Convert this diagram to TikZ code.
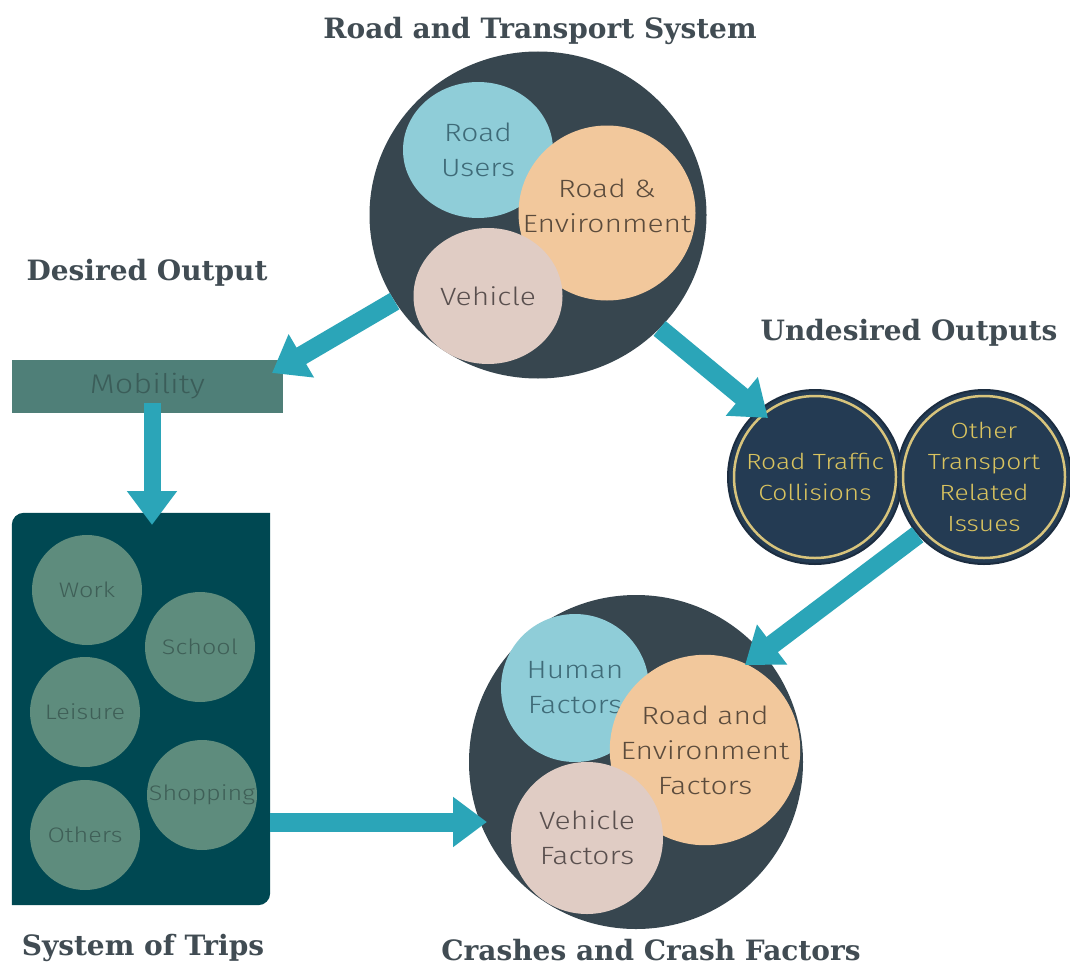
\documentclass[tikz,border=0pt]{standalone}
\usepackage{fontspec}
\setmainfont{Fira Sans Light}[FakeStretch=1.2]
\newfontfamily\titlefont{DejaVu Serif}
\usetikzlibrary{arrows.meta,shapes.geometric}
\definecolor{slate}{HTML}{37464F}
\definecolor{lblue}{HTML}{8FCDD8}
\definecolor{lbluet}{HTML}{3F6B78}
\definecolor{orng}{HTML}{F2C89C}
\definecolor{orngt}{HTML}{5B4B3C}
\definecolor{pnk}{HTML}{E0CCC4}
\definecolor{pnkt}{HTML}{594F4E}
\definecolor{arrowc}{HTML}{2BA5B8}
\definecolor{mobf}{HTML}{4F7F78}
\definecolor{mobt}{HTML}{3B5D59}
\definecolor{tripf}{HTML}{004852}
\definecolor{tripc}{HTML}{5E8C7D}
\definecolor{tript}{HTML}{3F5F57}
\definecolor{navy}{HTML}{243B53}
\definecolor{navyd}{HTML}{1C2D40}
\definecolor{gold}{HTML}{D8C47C}
\definecolor{goldt}{HTML}{D9C35F}
\definecolor{titlec}{HTML}{414C53}
\tikzset{
  bigc/.style={circle, fill=slate, minimum size=#1, inner sep=0pt},
  subc/.style={circle, inner sep=0pt, align=center, font=\fontsize{25}{35}\selectfont},
  subel/.style={ellipse, inner sep=0pt, align=center, font=\fontsize{25}{35}\selectfont},
  txt/.style={align=center, inner sep=0pt, font=\fontsize{25}{35}\selectfont},
  tripcirc/.style={circle, fill=tripc, text=tript, minimum size=110pt, inner sep=0pt, font=\fontsize{21}{25}\selectfont},
  undes/.style={circle, fill=navy, draw=navyd, line width=2pt, minimum size=174pt, inner sep=0pt},
  goldtxt/.style={align=center, text=goldt, inner sep=0pt, font=\fontsize{22}{31}\selectfont},
  ttl/.style={text=titlec, inner sep=0pt, anchor=base, font=\titlefont\bfseries\fontsize{28}{32}\selectfont},
  conn/.style={draw=arrowc, line width=19pt, -{Triangle[width=48pt,length=34pt]}},
}
\begin{document}
\begin{tikzpicture}[x=1pt,y=-1pt]
\useasboundingbox[fill=white] (0,0) rectangle (1070,966);

% titles
\node[ttl] (t1) at (540,38) {Road and Transport System};
\node[ttl] (t2) at (147,280) {Desired Output};
\node[ttl] (t3) at (909,340) {Undesired Outputs};
\node[ttl] (t4) at (143,955) {System of Trips};
\node[ttl] (t5) at (651,960) {Crashes and Crash Factors};

% top system circle
\node[ellipse, fill=slate, minimum width=337pt, minimum height=327pt, inner sep=0pt] (rts) at (538,215) {};
\node[subel, fill=lblue, text=lbluet, minimum width=150pt, minimum height=136pt] (ru) at (478,150) {Road\\Users};
\node[subel, fill=orng, minimum width=177pt, minimum height=175pt] (re) at (607,213) {};
\node[txt, text=orngt] (ret) at (607,206) {Road \&\\Environment};
\node[subel, fill=pnk, text=pnkt, minimum width=149pt, minimum height=136pt] (veh) at (488,296) {Vehicle};

% mobility
\node[fill=mobf, text=mobt, minimum width=271pt, minimum height=53pt, inner sep=0pt, font=\fontsize{27}{30}\selectfont] (mob) at (147.5,386.5) {Mobility};

% trips box
\node[minimum width=258pt, minimum height=392pt, inner sep=0pt] (trips) at (141,709) {};
\fill[tripf] (trips.south west) [rounded corners=12pt] -- (trips.north west) [sharp corners] -- (trips.north east) [rounded corners=12pt] -- (trips.south east) [sharp corners] -- cycle;
\node[tripcirc] (work) at (87,590) {Work};
\node[tripcirc] (school) at (200,647) {School};
\node[tripcirc] (leis) at (85,712) {Leisure};
\node[tripcirc] (shop) at (202,795) {Shopping};
\node[tripcirc] (oth) at (85,835) {Others};

% undesired outputs
\node[undes] (rtc) at (815,477) {};
\node[undes] (otr) at (984,477) {};
\draw[gold, line width=2.5pt] (rtc.center) circle[radius=81pt];
\draw[gold, line width=2.5pt] (otr.center) circle[radius=81pt];
\node[goldtxt] (rtct) at (rtc.center) {Road Traffic\\Collisions};
\node[goldtxt] (otrt) at (otr.center) {Other\\Transport\\Related\\Issues};

% crash circle
\node[bigc=334pt] (crash) at (636,762) {};
\node[subc, fill=lblue, text=lbluet, minimum size=148pt] (hf) at (575,688) {Human\\Factors};
\node[subc, fill=orng, text=orngt, minimum size=180pt] (ref) at (705,750) {Road and\\Environment\\Factors};
\node[subc, fill=pnk, text=pnkt, minimum size=152pt] (vf) at (587,838) {Vehicle\\Factors};

% arrow end points
\coordinate (s2) at (152,403);
\coordinate (e1) at (272,373);
\coordinate (e2) at (152,525);
\coordinate (e3) at (768,418);
\coordinate (e4) at (745,665);
\coordinate (e5) at (487,822);

% connectors
\draw[conn] (rts.211) -- (e1);
\draw[conn, line width=17pt] (s2) -- (e2);
\draw[conn] (rts.317) -- (e3);
\draw[conn] (otr.221) -- (e4);
\draw[conn] (trips.east |- e5) -- (e5);
\end{tikzpicture}
\end{document}
